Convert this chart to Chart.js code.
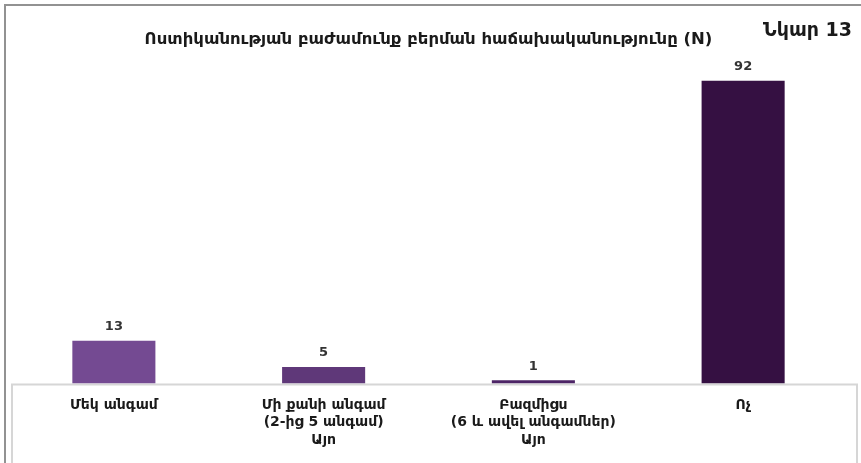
<!DOCTYPE html>
<html>
<head>
<meta charset="utf-8">
<script src="https://cdn.jsdelivr.net/npm/chart.js@4.4.0/dist/chart.umd.min.js"></script>
<style>
    html, body { margin: 0; padding: 0; background: #fff; overflow: hidden; }
    #wrap { position: relative; width: 861px; height: 463px; overflow: hidden; }
    #frame { position: absolute; left: 4px; top: 4px; width: 900px; height: 500px;
             border-left: 2px solid #929292; border-top: 2px solid #929292; pointer-events: none; }
    #fig { position: absolute; right: 9px; top: 18px; font: bold 19px "DejaVu Sans", sans-serif; color: #1a1a1a; }
    canvas { position: absolute; left: 0; top: 0; }
</style>
</head>
<body>
<div id="wrap">
    <canvas id="chart" width="861" height="463"></canvas>
    <div id="frame"></div>
    <div id="fig">Նկար 13</div>
</div>
<script>
const categories = [
    ['Մեկ անգամ'],
    ['Մի քանի անգամ', '(2-ից 5 անգամ)', 'Այո'],
    ['Բազմիցս', '(6 և ավել անգամներ)', 'Այո'],
    ['Ոչ']
];
const counts = [13, 5, 1, 92];
const barColors = ['#744a92', '#5f3879', '#4d2466', '#351042'];
const chartTitle = 'Ոստիկանության բաժամունք բերման հաճախականությունը (N)';

// numbers above bars
const valueLabels = {
    id: 'valueLabels',
    afterDatasetsDraw(chart) {
        const ctx = chart.ctx;
        const meta = chart.getDatasetMeta(0);
        ctx.save();
        ctx.font = 'bold 13px "DejaVu Sans", sans-serif';
        ctx.fillStyle = '#333';
        ctx.textAlign = 'center';
        ctx.textBaseline = 'middle';
        meta.data.forEach((bar, i) => {
            ctx.fillText(counts[i], bar.x, bar.y - 14);
        });
        ctx.restore();
    }
};

// light box around the category labels
const labelBox = {
    id: 'labelBox',
    beforeDatasetsDraw(chart) {
        const { ctx, chartArea } = chart;
        const left = chartArea.left + 3;
        const right = chartArea.right + 9;
        const y = chartArea.bottom + 1;
        ctx.save();
        ctx.strokeStyle = '#d6d6d6';
        ctx.lineWidth = 2;
        ctx.beginPath();
        ctx.moveTo(left, chart.height);
        ctx.lineTo(left, y);
        ctx.lineTo(right, y);
        ctx.lineTo(right, chart.height);
        ctx.stroke();
        ctx.restore();
    }
};

new Chart(document.getElementById('chart'), {
    type: 'bar',
    data: {
        labels: categories,
        datasets: [{
            data: counts,
            backgroundColor: barColors,
            borderWidth: 0,
            categoryPercentage: 1,
            barPercentage: 0.396
        }]
    },
    options: {
        responsive: false,
        animation: false,
        layout: { padding: { left: 9, right: 13, top: 0, bottom: 1 } },
        plugins: {
            legend: { display: false },
            tooltip: { enabled: false },
            title: {
                display: true,
                text: chartTitle,
                color: '#1a1a1a',
                font: { family: '"DejaVu Sans", sans-serif', size: 16.5, weight: 'bold', lineHeight: 1.2 },
                padding: { top: 30, bottom: 4.5 }
            }
        },
        scales: {
            x: {
                grid: { display: false, drawTicks: false },
                border: { display: false },
                ticks: {
                    color: '#1a1a1a',
                    padding: 13,
                    maxRotation: 0,
                    autoSkip: false,
                    font: { family: '"DejaVu Sans", sans-serif', size: 14, weight: 'bold', lineHeight: 1.25 }
                }
            },
            y: {
                display: false,
                min: 0,
                max: 100
            }
        }
    },
    plugins: [labelBox, valueLabels]
});
</script>
</body>
</html>
